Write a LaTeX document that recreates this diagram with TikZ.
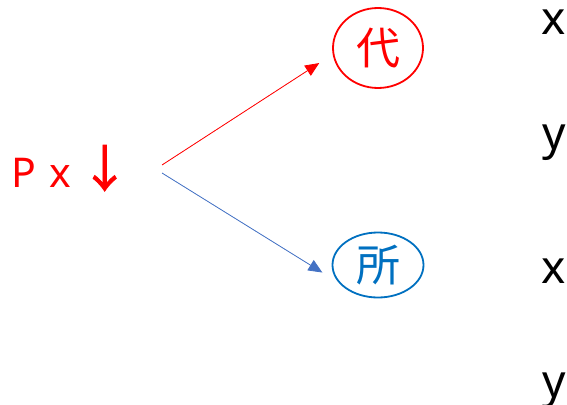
\documentclass[tikz,border=0pt]{standalone}
\usepackage{fontspec}
\setmainfont{Noto Sans}
\newfontfamily\cjk{Noto Sans CJK JP}
\newfontfamily\arrowfont[FakeBold=1.5]{Noto Sans CJK JP}
\usetikzlibrary{arrows.meta,shapes.geometric}
\definecolor{pred}{HTML}{FF0000}
\definecolor{pblue}{HTML}{0070C0}
\definecolor{ablue}{HTML}{4472C4}
\begin{document}
\begin{tikzpicture}[x=1pt,y=-1pt,
  varlbl/.style={inner sep=0pt, anchor=base, font=\fontsize{46}{50}\selectfont, text=black},
  kanji/.style={ellipse, draw, line width=1.8pt, inner sep=0pt,
                font=\cjk\fontsize{44}{48}\selectfont},
  link/.style={line width=0.8pt, -{Triangle[length=14pt,width=12pt]}}]
\useasboundingbox (0,0) rectangle (567,404);

% source expression
\node[inner sep=0pt, anchor=base west, text=pred,
      font=\fontsize{41}{45}\selectfont] (src) at (11,187)
  {P\hspace{13pt}x\hspace{9pt}{\arrowfont\fontsize{50}{54}\selectfont ↓}};

% targets
\node[kanji, draw=pred, text=pred, minimum width=90pt, minimum height=80pt] (dai) at (378,48) {代};
\node[kanji, draw=pblue, text=pblue, minimum width=91pt, minimum height=65pt] (sho) at (378,265) {所};

% variable column
\node[varlbl] (x1) at (554,35) {x};
\node[varlbl] (y1) at (554,149) {y};
\node[varlbl] (x2) at (554,283) {x};
\node[varlbl] (y2) at (554,397) {y};

% connectors
\coordinate (s1) at (162,165);
\coordinate (s2) at (162,173);
\draw[link, draw=pred, fill=pred, shorten >=16pt] (s1) -- (dai.188);
\draw[link, draw=ablue, fill=ablue, shorten >=19pt] (s2) -- (sho.204);
\end{tikzpicture}
\end{document}
